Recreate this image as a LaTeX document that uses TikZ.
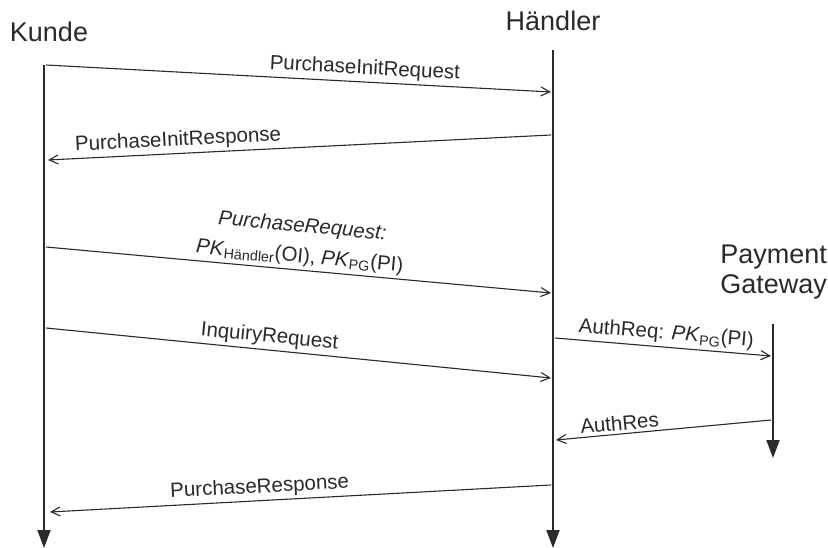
\documentclass[tikz,border=0pt]{standalone}
\usepackage{fontspec}
\setmainfont{Liberation Sans}
\usetikzlibrary{arrows.meta}
\definecolor{ink}{HTML}{2A2A2A}
\tikzset{
  actor/.style={text=ink, font=\fontsize{27}{30}\selectfont, inner sep=0pt, align=center},
  lifeline/.style={draw=ink, line width=2pt, -{Triangle[length=18pt,width=13pt]}},
  msg/.style={draw=ink, line width=1.1pt, -{Straight Barb[length=9pt,width=9pt,line width=1.1pt]}},
  lbl/.style={text=ink, font=\fontsize{20.5}{23}\selectfont, sloped, above, inner sep=3pt, align=center}
}
\begin{document}
\begin{tikzpicture}[x=1pt,y=-1pt]
\useasboundingbox[fill=white] (0,0) rectangle (828,548);
% actors
\node[actor] (kunde) at (49,32) {Kunde};
\node[actor] (haendler) at (553,21) {Händler};
\node[actor, align=right, anchor=east] (pg) at (827,272) {Payment\\Gateway};
% lifelines
\coordinate (kTop) at (44,65);
\coordinate (kBot) at (44,548);
\coordinate (hTop) at (553,50);
\coordinate (hBot) at (553,548);
\coordinate (pTop) at (773,324);
\coordinate (pBot) at (773,458);
\draw[lifeline] (kTop) -- (kBot);
\draw[lifeline] (hTop) -- (hBot);
\draw[lifeline] (pTop) -- (pBot);
% message endpoints
\coordinate (m1a) at (46,65);  \coordinate (m1b) at (551,92);
\coordinate (m2a) at (551,135); \coordinate (m2b) at (48,160);
\coordinate (m3a) at (46,247); \coordinate (m3b) at (551,293);
\coordinate (m4a) at (46,328); \coordinate (m4b) at (551,378);
\coordinate (m5a) at (555,338); \coordinate (m5b) at (771,356);
\coordinate (m6a) at (771,420); \coordinate (m6b) at (556,440);
\coordinate (m7a) at (551,485); \coordinate (m7b) at (50,512);
% messages
\draw[msg] (m1a) -- node[lbl, pos=0.63] {PurchaseInitRequest} (m1b);
\draw[msg] (m2a) -- node[lbl, pos=0.74] {PurchaseInitResponse} (m2b);
\draw[msg] (m3a) -- node[lbl, pos=0.5] {\textit{PurchaseRequest:}\\[7pt]\textit{PK}\textsubscript{Händler}(OI), \textit{PK}\textsubscript{PG}(PI)} (m3b);
\draw[msg] (m4a) -- node[lbl, pos=0.44] {InquiryRequest} (m4b);
\draw[msg] (m5a) -- node[lbl, pos=0.51] {AuthReq: \textit{PK}\textsubscript{PG}(PI)} (m5b);
\draw[msg] (m6a) -- node[lbl, pos=0.7] {AuthRes} (m6b);
\draw[msg] (m7a) -- node[lbl, pos=0.58] {PurchaseResponse} (m7b);
\end{tikzpicture}
\end{document}
